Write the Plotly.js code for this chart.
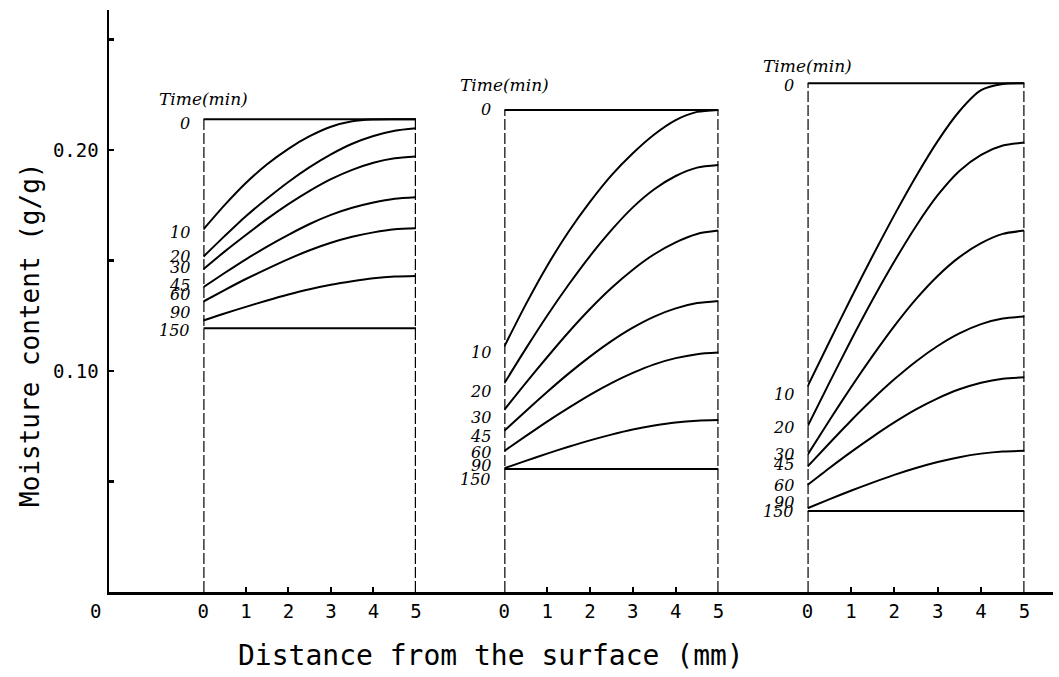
<!DOCTYPE html>
<html>
<head>
<meta charset="utf-8">
<script src="https://cdn.plot.ly/plotly-3.0.1.min.js"></script>
<style>
  html, body { margin: 0; padding: 0; background: #ffffff; }
  #chart { width: 1059px; height: 677px; }
</style>
</head>
<body>
<div id="chart"></div>
<script>
// Distance from the surface (mm) at which each profile is given
const depth = [0, 0.5, 1, 1.5, 2, 2.5, 3, 3.5, 4, 4.5, 5];

// Drying time of each profile (min), top to bottom
const timeLabels = ['0', '10', '20', '30', '45', '60', '90', '150'];

// Moisture content (g/g) profiles, first specimen
const moistureA = [
  [0.2139, 0.2139, 0.2139, 0.2139, 0.2139, 0.2139, 0.2139, 0.2139, 0.2139, 0.2139, 0.2139],
  [0.1640, 0.1750, 0.1850, 0.1935, 0.2005, 0.2062, 0.2105, 0.2130, 0.2138, 0.2139, 0.2139],
  [0.1517, 0.1610, 0.1700, 0.1780, 0.1855, 0.1922, 0.1980, 0.2028, 0.2063, 0.2087, 0.2098],
  [0.1460, 0.1540, 0.1615, 0.1688, 0.1755, 0.1815, 0.1868, 0.1910, 0.1942, 0.1962, 0.1970],
  [0.1379, 0.1443, 0.1505, 0.1563, 0.1616, 0.1665, 0.1706, 0.1738, 0.1762, 0.1779, 0.1786],
  [0.1314, 0.1366, 0.1416, 0.1462, 0.1506, 0.1546, 0.1580, 0.1607, 0.1627, 0.1641, 0.1646],
  [0.1228, 0.1260, 0.1290, 0.1319, 0.1346, 0.1370, 0.1390, 0.1406, 0.1419, 0.1427, 0.1430],
  [0.1193, 0.1193, 0.1193, 0.1193, 0.1193, 0.1193, 0.1193, 0.1193, 0.1193, 0.1193, 0.1193]
];

// Moisture content (g/g) profiles, second specimen
const moistureB = [
  [0.2181, 0.2181, 0.2181, 0.2181, 0.2181, 0.2181, 0.2181, 0.2181, 0.2181, 0.2181, 0.2181],
  [0.1110, 0.1300, 0.1475, 0.1630, 0.1765, 0.1885, 0.1985, 0.2070, 0.2135, 0.2172, 0.2181],
  [0.0944, 0.1100, 0.1250, 0.1390, 0.1520, 0.1637, 0.1740, 0.1822, 0.1882, 0.1920, 0.1932],
  [0.0824, 0.0945, 0.1062, 0.1175, 0.1280, 0.1375, 0.1458, 0.1528, 0.1582, 0.1620, 0.1635],
  [0.0729, 0.0818, 0.0905, 0.0988, 0.1065, 0.1135, 0.1196, 0.1246, 0.1283, 0.1307, 0.1317],
  [0.0638, 0.0705, 0.0771, 0.0833, 0.0892, 0.0945, 0.0991, 0.1030, 0.1058, 0.1076, 0.1083],
  [0.0560, 0.0593, 0.0626, 0.0657, 0.0686, 0.0712, 0.0735, 0.0753, 0.0767, 0.0775, 0.0778],
  [0.0557, 0.0557, 0.0557, 0.0557, 0.0557, 0.0557, 0.0557, 0.0557, 0.0557, 0.0557, 0.0557]
];

// Moisture content (g/g) profiles, third specimen
const moistureC = [
  [0.2302, 0.2302, 0.2302, 0.2302, 0.2302, 0.2302, 0.2302, 0.2302, 0.2302, 0.2302, 0.2302],
  [0.0929, 0.1130, 0.1328, 0.1520, 0.1705, 0.1880, 0.2040, 0.2175, 0.2270, 0.2298, 0.2302],
  [0.0748, 0.0945, 0.1138, 0.1322, 0.1495, 0.1655, 0.1795, 0.1905, 0.1978, 0.2020, 0.2033],
  [0.0620, 0.0775, 0.0925, 0.1068, 0.1203, 0.1325, 0.1430, 0.1515, 0.1578, 0.1620, 0.1635],
  [0.0567, 0.0672, 0.0775, 0.0872, 0.0962, 0.1043, 0.1113, 0.1170, 0.1212, 0.1237, 0.1246],
  [0.0484, 0.0560, 0.0633, 0.0702, 0.0767, 0.0826, 0.0876, 0.0917, 0.0947, 0.0965, 0.0971],
  [0.0379, 0.0419, 0.0458, 0.0495, 0.0530, 0.0561, 0.0588, 0.0610, 0.0626, 0.0636, 0.0639],
  [0.0367, 0.0367, 0.0367, 0.0367, 0.0367, 0.0367, 0.0367, 0.0367, 0.0367, 0.0367, 0.0367]
];

const depthTicks = [0, 1, 2, 3, 4, 5];
const moistureTicks = [0.05, 0.10, 0.15, 0.20, 0.25];
const moistureTickText = ['', '0.10', '', '0.20', ''];

// ---- layout helpers (pixel nudges for the hand-lettered time labels) ----
const panels = [
  { data: moistureA, axis: 'x2', domain: [0.0999, 0.3252], labelShift: [-4, -3, 0, 2, 2, 7, 8, -2], titleShift: 20 },
  { data: moistureB, axis: 'x3', domain: [0.4187, 0.6457], labelShift: [0, -6, -8, -8, -6, -2, 3, -11], titleShift: 25 },
  { data: moistureC, axis: 'x4', domain: [0.7399, 0.9698], labelShift: [-2, -8, -1, 0, 2, 0, 6, -1], titleShift: 17 }
];

const ink = '#000000';
const monoFont = 'DejaVu Sans Mono, Liberation Mono, monospace';
const handFont = 'DejaVu Serif, Liberation Serif, serif';

// empty trace on the outer frame so the moisture axis is drawn at the origin
const traces = [{
  type: 'scatter', mode: 'lines', x: [], y: [],
  xaxis: 'x', yaxis: 'y', hoverinfo: 'skip', showlegend: false
}];
const annotations = [];

panels.forEach(function (p) {
  const top = p.data[0][0];
  // dashed sides of the specimen, from the base up to the initial moisture level
  traces.push({
    type: 'scatter', mode: 'lines',
    x: [depthTicks[0], depthTicks[0], null, depthTicks[5], depthTicks[5]],
    y: [0, top, null, 0, top],
    xaxis: p.axis, yaxis: 'y',
    line: { color: ink, width: 2.4, dash: '11px,3px' },
    hoverinfo: 'skip', showlegend: false
  });
  // one profile per drying time
  p.data.forEach(function (row, i) {
    traces.push({
      type: 'scatter', mode: 'lines',
      x: depth, y: row,
      xaxis: p.axis, yaxis: 'y',
      line: { color: ink, width: 2, shape: 'spline', smoothing: 0.7 },
      hoverinfo: 'skip', showlegend: false
    });
    annotations.push({
      x: 0, xref: p.axis, y: row[0], yref: 'y',
      text: timeLabels[i], showarrow: false,
      xanchor: 'right', yanchor: 'middle', xshift: -11, yshift: p.labelShift[i],
      font: { family: handFont, size: 16, color: ink, style: 'italic' }
    });
  });
  annotations.push({
    x: 0, xref: p.axis, y: top, yref: 'y',
    text: 'Time(min)', showarrow: false,
    xanchor: 'left', yanchor: 'middle', xshift: -46, yshift: p.titleShift,
    font: { family: handFont, size: 17, color: ink, style: 'italic' }
  });
});

// origin label and axis titles
annotations.push({
  x: -0.0148, xref: 'paper', y: 0, yref: 'paper',
  text: '0', showarrow: false, xanchor: 'center', yanchor: 'middle', yshift: -19,
  font: { family: monoFont, size: 19, color: ink }
});
annotations.push({
  x: 0.405, xref: 'paper', y: 0, yref: 'paper',
  text: 'Distance from the surface (mm)', showarrow: false,
  xanchor: 'center', yanchor: 'middle', yshift: -63,
  font: { family: monoFont, size: 28, color: ink }
});
annotations.push({
  x: -0.0837, xref: 'paper', y: 0.1163, yref: 'y',
  text: 'Moisture content (g/g)', showarrow: false, textangle: -90,
  xanchor: 'center', yanchor: 'middle',
  font: { family: monoFont, size: 26, color: ink }
});

function depthAxis(domain) {
  return {
    domain: domain, range: [0, 5], anchor: 'y',
    tickmode: 'array', tickvals: depthTicks, ticktext: depthTicks.map(String),
    ticks: 'inside', ticklen: 5, tickwidth: 2, tickcolor: ink,
    ticklabelstandoff: 6,
    showline: false, showgrid: false, zeroline: false,
    tickfont: { family: monoFont, size: 19, color: ink },
    fixedrange: true
  };
}

const layout = {
  width: 1059, height: 677,
  margin: { l: 109, r: 6, t: 10, b: 85 },
  paper_bgcolor: '#ffffff', plot_bgcolor: '#ffffff',
  showlegend: false,
  xaxis: {
    domain: [0, 1], range: [0, 1], anchor: 'y',
    showline: true, linecolor: ink, linewidth: 2.5,
    ticks: '', showticklabels: false, showgrid: false, zeroline: false, fixedrange: true
  },
  xaxis2: depthAxis(panels[0].domain),
  xaxis3: depthAxis(panels[1].domain),
  xaxis4: depthAxis(panels[2].domain),
  yaxis: {
    domain: [0, 1], range: [0, 0.2633], anchor: 'x',
    showline: true, linecolor: ink, linewidth: 2.5,
    tickmode: 'array', tickvals: moistureTicks, ticktext: moistureTickText,
    ticks: 'inside', ticklen: 5, tickwidth: 2.5, tickcolor: ink,
    ticklabelstandoff: 4,
    showgrid: false, zeroline: false,
    tickfont: { family: monoFont, size: 19, color: ink },
    fixedrange: true
  },
  annotations: annotations
};

Plotly.newPlot('chart', traces, layout, { displayModeBar: false, staticPlot: true });
</script>
</body>
</html>
